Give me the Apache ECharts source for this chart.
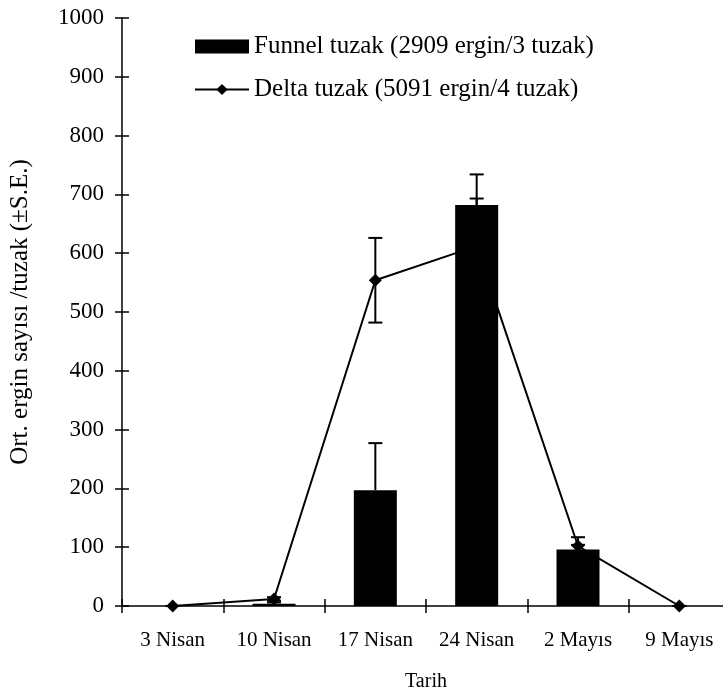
<!DOCTYPE html>
<html>
<head>
<meta charset="utf-8">
<script src="https://cdn.jsdelivr.net/npm/echarts@6/dist/echarts.min.js"></script>
<style>
  html, body { margin: 0; padding: 0; background: #fff; }
  #chart { width: 723px; height: 699px; }
</style>
</head>
<body>
<div id="chart"></div>
<script>
// Weekly sampling dates
const categories = ['3 Nisan', '10 Nisan', '17 Nisan', '24 Nisan', '2 Mayıs', '9 Mayıs'];
// Funnel traps: mean adults per trap and standard error
const funnelMean = [0, 4, 197, 682, 96, 0];
const funnelSE = [0, 2, 80, 52, 8, 0];
// Delta traps: mean adults per trap and standard error
const deltaMean = [0, 12, 554, 612, 102, 0];
const deltaSE = [0, 3, 72, 81, 15, 0];
// Value axis ticks
const yTicks = [0, 100, 200, 300, 400, 500, 600, 700, 800, 900, 1000];

const funnelName = 'Funnel tuzak (2909 ergin/3 tuzak)';
const deltaName = 'Delta tuzak (5091 ergin/4 tuzak)';
const FONT = 'Liberation Serif';

const chart = echarts.init(document.getElementById('chart'), null, { renderer: 'canvas' });

// error bar drawer: value index 1 = low end, 2 = high end, 3 = draw lower cap flag
function errorBars(params, api) {
  const idx = api.value(0);
  const lo = api.value(1);
  const hi = api.value(2);
  const lowCap = api.value(3);
  const pTop = api.coord([idx, hi]);
  const pBot = api.coord([idx, lo]);
  const half = 7;
  const style = { stroke: '#000', lineWidth: 2 };
  const children = [
    { type: 'line', shape: { x1: pTop[0], y1: pTop[1], x2: pBot[0], y2: pBot[1] }, style: style },
    { type: 'line', shape: { x1: pTop[0] - half, y1: pTop[1], x2: pTop[0] + half, y2: pTop[1] }, style: style }
  ];
  if (lowCap) {
    children.push({ type: 'line', shape: { x1: pBot[0] - half, y1: pBot[1], x2: pBot[0] + half, y2: pBot[1] }, style: style });
  }
  return { type: 'group', children: children };
}

const funnelErr = categories.map((c, i) => [i, funnelMean[i], funnelMean[i] + funnelSE[i], 0]);
const deltaErr = categories.map((c, i) => [i, deltaMean[i] - deltaSE[i], deltaMean[i] + deltaSE[i], 1]);

const axisLineStyle = { color: '#000', width: 1.5 };

chart.setOption({
  animation: false,
  backgroundColor: '#fff',
  textStyle: { fontFamily: FONT, color: '#000' },
  // the last category runs slightly past the right edge of the canvas
  grid: {
    left: 122, width: 608, top: 18, height: 588,
    containLabel: false, outerBoundsMode: 'none'
  },
  legend: {
    orient: 'vertical',
    left: 189,
    top: 29,
    itemWidth: 54,
    itemHeight: 14,
    itemGap: 18,
    textStyle: { fontFamily: FONT, fontSize: 25, color: '#000' },
    data: [
      { name: funnelName, icon: 'rect' },
      { name: deltaName }
    ]
  },
  xAxis: [
    {
      type: 'category',
      data: categories,
      boundaryGap: true,
      name: 'Tarih',
      nameLocation: 'middle',
      nameGap: 66,
      nameTextStyle: { fontFamily: FONT, fontSize: 20, color: '#000' },
      axisLine: { lineStyle: axisLineStyle },
      axisTick: { show: true, inside: false, length: 7, lineStyle: axisLineStyle },
      axisLabel: { fontFamily: FONT, fontSize: 21, color: '#000', margin: 24, interval: 0 },
      splitLine: { show: false }
    },
    {
      type: 'category',
      data: categories,
      position: 'bottom',
      boundaryGap: true,
      axisLine: { show: false },
      axisTick: { show: true, inside: true, length: 7, lineStyle: axisLineStyle },
      axisLabel: { show: false },
      splitLine: { show: false }
    }
  ],
  yAxis: [
    {
      type: 'value',
      min: yTicks[0],
      max: yTicks[yTicks.length - 1],
      interval: yTicks[1] - yTicks[0],
      name: 'Ort. ergin sayısı /tuzak (±S.E.)',
      nameLocation: 'middle',
      nameRotate: 90,
      nameGap: 89,
      nameTextStyle: { fontFamily: FONT, fontSize: 25, color: '#000' },
      axisLine: { show: true, lineStyle: axisLineStyle },
      axisTick: { show: true, inside: false, length: 7, lineStyle: axisLineStyle },
      axisLabel: {
        fontFamily: FONT, fontSize: 23, color: '#000', margin: 18,
        formatter: function (v) { return String(v); }
      },
      splitLine: { show: false }
    },
    {
      type: 'value',
      position: 'left',
      min: yTicks[0],
      max: yTicks[yTicks.length - 1],
      interval: yTicks[1] - yTicks[0],
      axisLine: { show: false },
      axisTick: { show: true, inside: true, length: 7, lineStyle: axisLineStyle },
      axisLabel: { show: false },
      splitLine: { show: false }
    }
  ],
  series: [
    {
      name: deltaName + ' SE',
      type: 'custom',
      renderItem: errorBars,
      data: deltaErr,
      z: 1,
      silent: true
    },
    {
      name: deltaName,
      type: 'line',
      data: deltaMean,
      symbol: 'diamond',
      symbolSize: 13,
      showAllSymbol: true,
      lineStyle: { color: '#000', width: 2 },
      itemStyle: { color: '#000' },
      z: 2
    },
    {
      name: funnelName,
      type: 'bar',
      data: funnelMean,
      barWidth: 43,
      itemStyle: { color: '#000' },
      z: 3
    },
    {
      name: funnelName + ' SE',
      type: 'custom',
      renderItem: errorBars,
      data: funnelErr,
      z: 4,
      silent: true
    }
  ]
});
</script>
</body>
</html>
